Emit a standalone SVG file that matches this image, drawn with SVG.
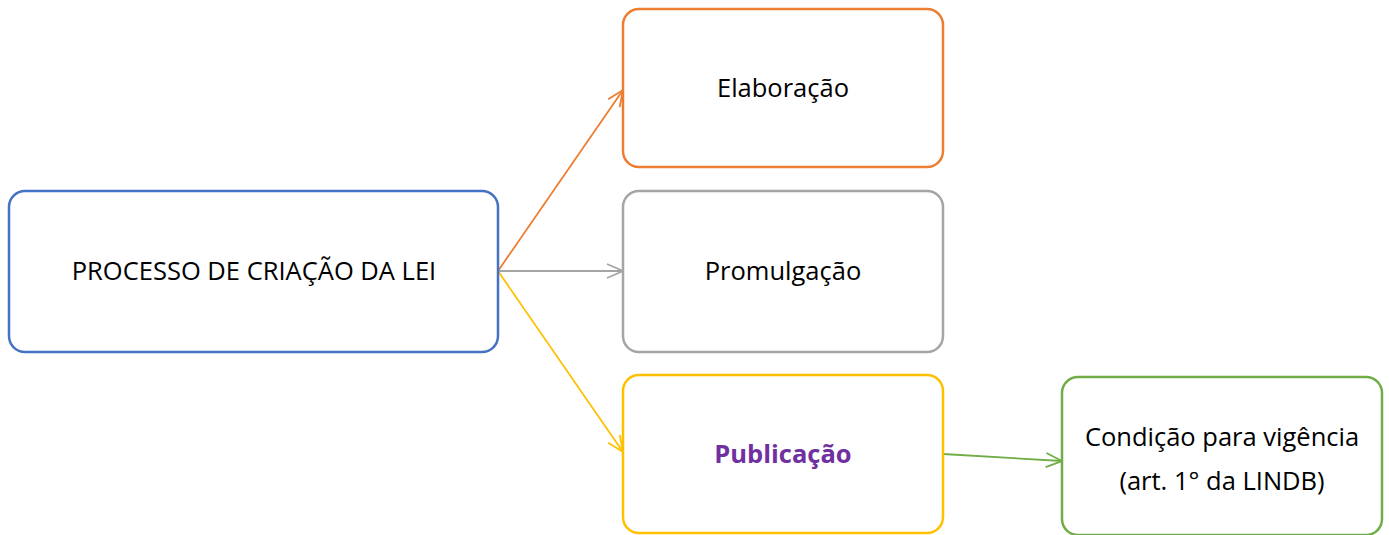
<svg xmlns="http://www.w3.org/2000/svg" width="1389" height="535" viewBox="0 0 1389 535">
<style>
.box{fill:#fff;stroke-width:2.5}
.t{font-family:"Open Sans","Noto Sans","Liberation Sans",sans-serif;font-size:25.5px;fill:#000;text-anchor:middle;dominant-baseline:central}
.c{fill:none;stroke-width:1.8}
</style>
<defs>
<marker id="aO" markerWidth="20" markerHeight="20" refX="17" refY="8" orient="auto" markerUnits="userSpaceOnUse"><path d="M1,1 L17,8 L1,15" fill="none" stroke="#ED7D31" stroke-width="1.8"/></marker>
<marker id="aG" markerWidth="20" markerHeight="20" refX="17" refY="8" orient="auto" markerUnits="userSpaceOnUse"><path d="M1,1 L17,8 L1,15" fill="none" stroke="#A5A5A5" stroke-width="1.8"/></marker>
<marker id="aY" markerWidth="20" markerHeight="20" refX="17" refY="8" orient="auto" markerUnits="userSpaceOnUse"><path d="M1,1 L17,8 L1,15" fill="none" stroke="#FFC000" stroke-width="1.8"/></marker>
<marker id="aGr" markerWidth="20" markerHeight="20" refX="17" refY="8" orient="auto" markerUnits="userSpaceOnUse"><path d="M1,1 L17,8 L1,15" fill="none" stroke="#70AD47" stroke-width="1.8"/></marker>
</defs>
<g id="connectors">
<line class="c" x1="498" y1="271" x2="623" y2="90" stroke="#ED7D31" marker-end="url(#aO)"/>
<line class="c" x1="498" y1="271" x2="623" y2="271" stroke="#A5A5A5" marker-end="url(#aG)"/>
<line class="c" x1="498" y1="271" x2="623" y2="452" stroke="#FFC000" marker-end="url(#aY)"/>
<line class="c" x1="943" y1="454" x2="1062" y2="461" stroke="#70AD47" marker-end="url(#aGr)"/>
</g>
<g id="node-processo">
<rect class="box" x="9" y="191" width="489" height="161" rx="16" stroke="#4472C4"/>
<text class="t" x="254" y="270">PROCESSO DE CRIAÇÃO DA LEI</text>
</g>
<g id="node-elaboracao">
<rect class="box" x="623" y="9" width="320" height="158" rx="16" stroke="#ED7D31"/>
<text class="t" x="783" y="87">Elaboração</text>
</g>
<g id="node-promulgacao">
<rect class="box" x="623" y="191" width="320" height="161" rx="16" stroke="#A5A5A5"/>
<text class="t" x="783" y="270">Promulgação</text>
</g>
<g id="node-publicacao">
<rect class="box" x="623" y="375" width="320" height="158" rx="16" stroke="#FFC000"/>
<text class="t" x="783" y="453" style="fill:#7030A0;font-weight:bold">Publicação</text>
</g>
<g id="node-condicao">
<rect class="box" x="1062" y="377" width="320" height="158" rx="16" stroke="#70AD47"/>
<text class="t" x="1222" y="436">Condição para vigência</text>
<text class="t" x="1222" y="480">(art. 1° da LINDB)</text>
</g>
</svg>
